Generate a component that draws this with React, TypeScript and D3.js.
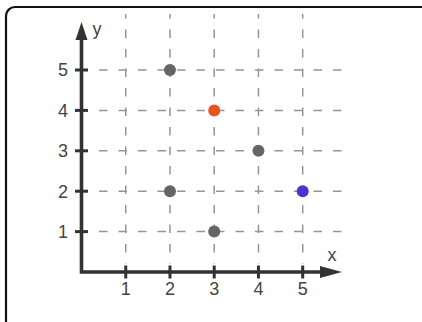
import React from "react";
import * as d3 from "d3";

const ticks = [1, 2, 3, 4, 5];
const tickLabels = ["1", "2", "3", "4", "5"];
const pointX = [2, 3, 4, 2, 5, 3];
const pointY = [5, 4, 3, 2, 2, 1];
const pointColor = ["#656565", "#ea5220", "#656565", "#656565", "#4a35d4", "#656565"];

export default function App() {
  const W = 422, H = 322;
  const x = d3.scaleLinear().domain([0, 5]).range([81.5, 302.7]);
  const y = d3.scaleLinear().domain([0, 5]).range([272, 70]);
  const ox = x(0), oy = y(0);
  const font = "'Liberation Sans', Arial, sans-serif";
  const axisColor = "#333";
  const gridColor = "#959595";
  return (
    <svg width={W} height={H} style={{ position: "absolute", left: 0, top: 0, background: "#fff" }}>
      <rect x={6} y={7} width={440} height={340} rx={9} fill="#fff" stroke="#111" strokeWidth={2.2} />
      {ticks.map((t) => (
        <line key={"gv" + t} x1={x(t)} x2={x(t)} y1={14} y2={264} stroke={gridColor} strokeWidth={1.5} strokeDasharray="8.5 11" strokeDashoffset={4} />
      ))}
      {ticks.map((t) => (
        <line key={"gh" + t} x1={99} x2={345} y1={y(t)} y2={y(t)} stroke={gridColor} strokeWidth={1.5} strokeDasharray="8.5 11" />
      ))}
      <path d={`M${ox},36 L${ox},${oy} L322,${oy}`} fill="none" stroke={axisColor} strokeWidth={3.6} strokeLinejoin="miter" strokeLinecap="square" />
      <path d={`M${ox},22 L${ox - 6},40 L${ox + 6},40 Z`} fill={axisColor} />
      <path d={`M342,${oy} L320,${oy - 6} L320,${oy + 6} Z`} fill={axisColor} />
      {ticks.map((t) => (
        <line key={"ty" + t} x1={ox - 6.5} x2={ox + 6.5} y1={y(t)} y2={y(t)} stroke={axisColor} strokeWidth={3} />
      ))}
      {ticks.map((t) => (
        <line key={"tx" + t} x1={x(t)} x2={x(t)} y1={oy - 6.5} y2={oy + 6.5} stroke={axisColor} strokeWidth={3} />
      ))}
      {ticks.map((t, i) => (
        <text key={"ly" + t} x={68} y={y(t)} dy="0.36em" textAnchor="end" fontFamily={font} fontSize={18} fill="#444">{tickLabels[i]}</text>
      ))}
      {ticks.map((t, i) => (
        <text key={"lx" + t} x={x(t)} y={289} dy="0.36em" textAnchor="middle" fontFamily={font} fontSize={18} fill="#444">{tickLabels[i]}</text>
      ))}
      <text x={97} y={29} dy="0.36em" textAnchor="middle" fontFamily={font} fontSize={18} fill="#444">y</text>
      <text x={332} y={255} dy="0.36em" textAnchor="middle" fontFamily={font} fontSize={18} fill="#444">x</text>
      {pointX.map((px, i) => (
        <circle key={"p" + i} cx={x(px)} cy={y(pointY[i])} r={6} fill={pointColor[i]} />
      ))}
    </svg>
  );
}
